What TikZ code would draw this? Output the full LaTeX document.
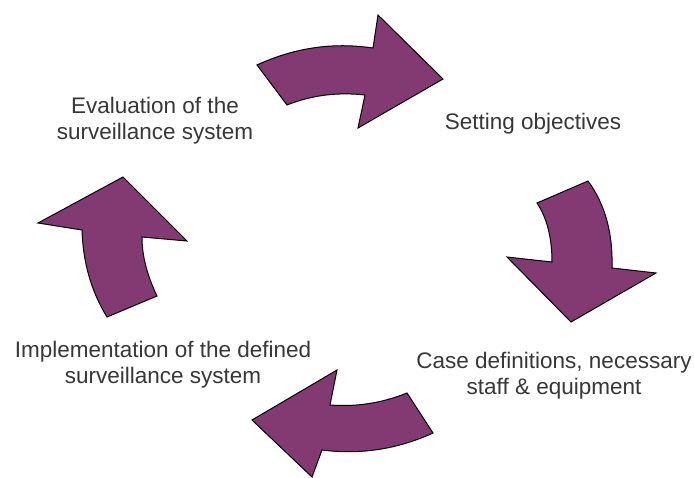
\documentclass[tikz,border=0pt]{standalone}
\usepackage{fontspec}
\setmainfont{Liberation Sans}
\definecolor{cyclepurple}{RGB}{131,58,114}
\definecolor{labelgrey}{RGB}{55,55,55}
\tikzset{
  cyclearrow/.style={fill=cyclepurple, draw=black, line width=1pt, line join=miter},
  steplabel/.style={align=center, text=labelgrey, inner sep=0pt,
    font=\fontsize{22.5}{26}\selectfont}
}

\begin{document}
\begin{tikzpicture}[x=1pt,y=-1pt]
		\useasboundingbox (0,0) rectangle (694,477);

		\filldraw[cyclearrow] (257,65) .. controls (294,48) and (332,42) .. (373,48) -- (378,15) -- (443,79)
			-- (358,128) -- (365,95) .. controls (338,92) and (312,95) .. (287,105) -- cycle;
		\filldraw[cyclearrow] (537,203) -- (588,181) .. controls (605,204) and (613,233) .. (612,268) -- (656,273)
			-- (571,322) -- (507,257) -- (552,262) .. controls (552,238) and (547,218) .. cycle;
		\filldraw[cyclearrow] (407,393) .. controls (382,403) and (357,407) .. (330,405) -- (337,370) -- (252,420)
			-- (312,477) -- (322,450) .. controls (361,455) and (398,449) .. (433,433) -- cycle;
		\filldraw[cyclearrow] (107,317) -- (157,296) .. controls (147,275) and (142,256) .. (142,237) -- (187,241)
			-- (123,177) -- (38,223) -- (82,230) .. controls (83,262) and (91,291) .. cycle;

		\node[steplabel] (evaluation) at (155,121) {Evaluation of the\\surveillance system};
		\node[steplabel] (objectives) at (533,124) {Setting objectives};
		\node[steplabel] (casedefs) at (554,376) {Case definitions, necessary\\staff \& equipment};
		\node[steplabel] (implementation) at (163,365) {Implementation of the defined\\surveillance system};
\end{tikzpicture}
\end{document}
